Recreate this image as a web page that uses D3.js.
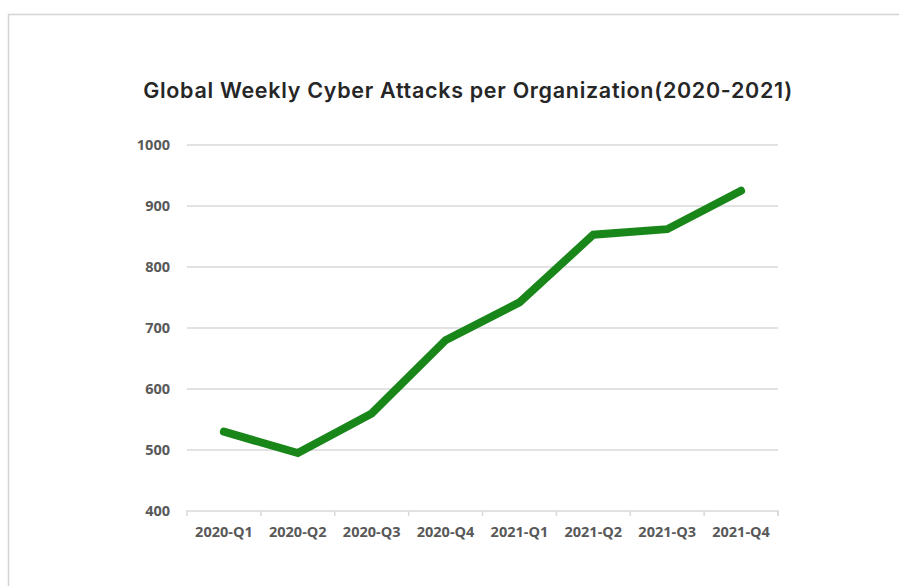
<!DOCTYPE html>
<html><head><meta charset="utf-8">
<script src="https://cdn.jsdelivr.net/npm/d3@7"></script>
<style>
html,body{margin:0;padding:0;background:#fff;}
svg{display:block;}
</style></head>
<body>
<svg id="c" width="899" height="586"></svg>
<script>
const categories = ["2020-Q1","2020-Q2","2020-Q3","2020-Q4","2021-Q1","2021-Q2","2021-Q3","2021-Q4"];
const attacks = [530, 495, 560, 680, 742, 853, 862, 925];
const yTicks = [400, 500, 600, 700, 800, 900, 1000];
const title = "Global Weekly Cyber Attacks per Organization(2020-2021)";

(function(){
const svg = d3.select("#c");
svg.append("rect").attr("x", 8.5).attr("y", 14.5).attr("width", 1000).attr("height", 700)
  .attr("fill", "none").attr("stroke", "#d4d4d4").attr("stroke-width", 1.5);

const mL = 187, mR = 778, mT = 145, mB = 511;
const x = d3.scaleBand().domain(categories).range([mL, mR]);
const y = d3.scaleLinear().domain([400, 1000]).range([mB, mT]);

svg.append("g").selectAll("line").data(yTicks.filter(d => d !== 400)).join("line")
  .attr("x1", mL).attr("x2", mR)
  .attr("y1", d => y(d)).attr("y2", d => y(d))
  .attr("stroke", "#d9d9d9").attr("stroke-width", 1.5);

const yAxis = d3.axisLeft(y).tickValues(yTicks).tickFormat(d3.format("d")).tickSize(0).tickPadding(17);
const gy = svg.append("g").attr("transform", `translate(${mL},0)`).call(yAxis);
gy.select(".domain").remove();
gy.selectAll("text").attr("fill", "#595959").style("font-family", "'Open Sans', sans-serif")
  .style("font-size", "14.5px").style("font-weight", "700");

const xAxis = d3.axisBottom(x).tickSize(5).tickPadding(11);
const gx = svg.append("g").attr("transform", `translate(0,${mB})`).call(xAxis);
gx.select(".domain").attr("stroke", "#d9d9d9").attr("stroke-width", 1.5)
  .attr("d", `M${mL},5V0H${mR}V5`);
gx.selectAll(".tick line").attr("stroke", "#d9d9d9").attr("stroke-width", 1.5)
  .attr("transform", `translate(${x.bandwidth()/2},0)`);
gx.selectAll("text").attr("fill", "#595959").style("font-family", "'Open Sans', sans-serif")
  .style("font-size", "14.5px").style("font-weight", "700");

const line = d3.line().x((d, i) => x(categories[i]) + x.bandwidth()/2).y(d => y(d));
svg.append("path").datum(attacks).attr("d", line)
  .attr("fill", "none").attr("stroke", "#198619").attr("stroke-width", 8)
  .attr("stroke-linecap", "round").attr("stroke-linejoin", "miter");

svg.append("text").attr("x", 468).attr("y", 98).attr("text-anchor", "middle")
  .attr("fill", "#262626").style("font-family", "Inter, 'Open Sans', sans-serif")
  .style("font-size", "21.5px").style("font-weight", "600").style("letter-spacing", "0.7px").text(title);
})();
</script>
</body></html>
